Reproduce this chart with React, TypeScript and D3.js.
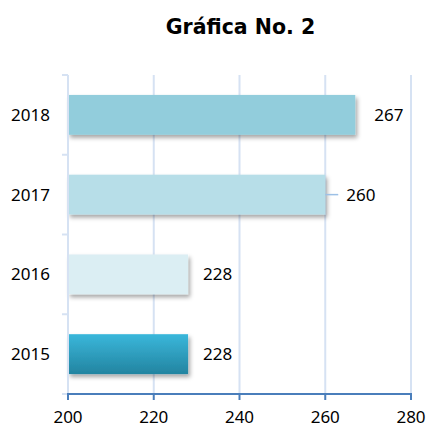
import React from "react";
import * as d3 from "d3";

const categories = ["2018", "2017", "2016", "2015"];
const values = [267, 260, 228, 228];
const xTicks = [200, 220, 240, 260, 280];
const title = "Gráfica No. 2";

const barColors = ["#92CDDC", "#B7DEE8", "#DBEEF3", "url(#g2015)"];
const labelGap = [19, 21, 15, 15];
const leader = [false, true, false, false];

export default function App() {
  const W = 428, H = 426;
  const left = 68, right = 411, top = 75, bottom = 394;
  const x = d3.scaleLinear().domain([200, 280]).range([left, right]);
  const y = d3.scaleBand<string>().domain(categories).range([top, bottom]).paddingInner(0.5).paddingOuter(0.25);
  const step = y.step();
  const font = "'Noto Sans', sans-serif";
  const boundaries = d3.range(categories.length + 1).map((i) => top + i * step);
  return (
    <svg width={W} height={H} style={{ position: "absolute", left: 0, top: 0, background: "#fff" }}>
      <defs>
        <linearGradient id="g2015" x1="0" y1="0" x2="0" y2="1">
          <stop offset="0" stopColor="#3AB7DB" />
          <stop offset="1" stopColor="#2384A0" />
        </linearGradient>
        <filter id="sh" x="-10%" y="-20%" width="130%" height="160%">
          <feDropShadow dx="2" dy="3" stdDeviation="2" floodColor="#000" floodOpacity="0.35" />
        </filter>
      </defs>
      <text x={240.5} y={34} textAnchor="middle" fontFamily="'DejaVu Sans', sans-serif" fontWeight="bold" fontSize={20.5} fill="#000">{title}</text>
      {xTicks.slice(1).map((t) => (
        <line key={t} x1={x(t)} x2={x(t)} y1={top} y2={bottom} stroke="#D6E2F3" strokeWidth={2} />
      ))}
      {categories.map((c, i) => (
        <rect key={c} x={x(200)} y={y(c)!} width={x(values[i]) - x(200)} height={y.bandwidth()} fill={barColors[i]} filter="url(#sh)" />
      ))}
      <line x1={left} x2={left} y1={top} y2={bottom} stroke="#D6E2F3" strokeWidth={2} />
      {boundaries.map((b, i) => (
        <line key={i} x1={left - 6} x2={left} y1={b} y2={b} stroke="#D6E2F3" strokeWidth={2} />
      ))}
      <line x1={left - 1} x2={right + 1} y1={bottom} y2={bottom} stroke="#4A7EBB" strokeWidth={2} />
      {xTicks.map((t) => (
        <g key={t}>
          <line x1={x(t)} x2={x(t)} y1={bottom} y2={bottom + 6} stroke="#4A7EBB" strokeWidth={2} />
          <text x={x(t)} y={423} textAnchor="middle" fontFamily={font} fontSize={17} fill="#000">{t}</text>
        </g>
      ))}
      {categories.map((c, i) => {
        const cy = y(c)! + y.bandwidth() / 2;
        return (
          <g key={c}>
            <text x={50} y={cy + 6} textAnchor="end" fontFamily={font} fontSize={17} fill="#000">{c}</text>
            {leader[i] && (
              <line x1={x(values[i])} x2={x(values[i]) + 13} y1={cy} y2={cy} stroke="#9DC0E6" strokeWidth={1.5} />
            )}
            <text x={x(values[i]) + labelGap[i]} y={cy + 6} fontFamily={font} fontSize={17} fill="#000">{values[i]}</text>
          </g>
        );
      })}
    </svg>
  );
}
